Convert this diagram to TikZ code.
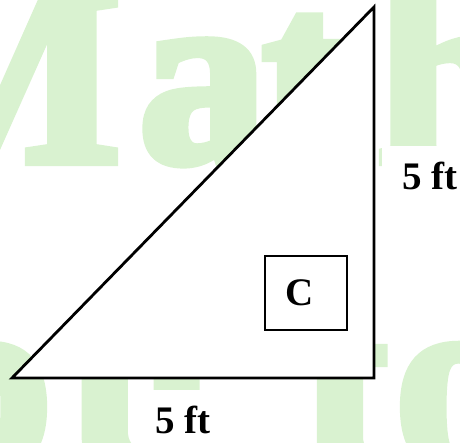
\documentclass[tikz,border=0pt]{standalone}
\usepackage{fontspec}
\setmainfont{Liberation Serif}
\newfontfamily\wmfont{Liberation Serif}[BoldFeatures={FakeBold=4}]
\definecolor{wmgreen}{RGB}{217,242,208}
\tikzset{
  wmletter/.style={anchor=base,inner sep=0,text=wmgreen,
                   font=\wmfont\bfseries\fontsize{255}{255}\selectfont},
  sidelabel/.style={anchor=base,fill=white,inner xsep=20,inner ysep=16,
                    font=\bfseries\fontsize{39}{41}\selectfont},
  anglebox/.style={draw,fill=white,line width=1.5,minimum width=82,
                   minimum height=74,font=\bfseries\fontsize{39}{41}\selectfont},
}

\begin{document}
\begin{tikzpicture}[x=1pt,y=-1pt]
  \useasboundingbox (0,0) rectangle (460,442);
  % watermark
  \begin{scope}
    \clip (0,0) rectangle (460,442);
    \node[wmletter] (wM) at (  0,161) {M};
    \node[wmletter] (wa) at (203,161) {a};
    \node[wmletter] (wt) at (305,161) {t};
    \node[wmletter] (wh) at (448,161) {h};
    \node[wmletter] (wo) at (-12,466) {o};
    \node[wmletter] (wu) at (142,466) {u};
    \node[wmletter] (wT) at (345,466) {t};
    \node[wmletter] (wO) at (459,466) {o};
  \end{scope}
  % triangle
  \coordinate (A) at ( 12,378);
  \coordinate (B) at (374,378);
  \coordinate (T) at (374,  7);
  \filldraw[fill=white,line width=2.8] (A) -- (B) -- (T) -- cycle;
  \node[anglebox] (boxC) at (306,293) {\hspace*{-12pt}C};
  \node[sidelabel] (right) at (430,189) {5 ft};
  \node[sidelabel] (bottom) at (183,433) {5 ft};
\end{tikzpicture}
\end{document}
